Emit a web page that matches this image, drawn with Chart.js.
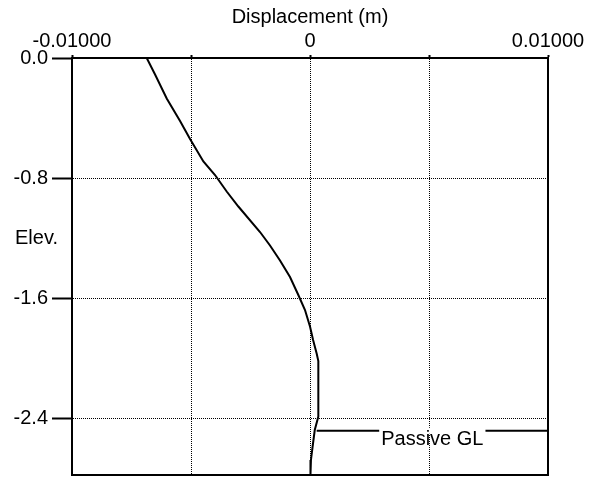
<!DOCTYPE html>
<html>
<head>
<meta charset="utf-8">
<script src="https://cdn.jsdelivr.net/npm/chart.js@4.4.1/dist/chart.umd.min.js"></script>
<style>
  html, body { margin: 0; padding: 0; background: #fff; }
  #wrap { width: 590px; height: 477px; }
</style>
</head>
<body>
<div id="wrap"><canvas id="chart"></canvas></div>
<script>
// wall deflection profile: elevation (m) against horizontal displacement (m)
const elevations = [0.0, -0.11, -0.27, -0.42, -0.54, -0.69, -0.78, -0.89, -0.99, -1.16, -1.25, -1.35, -1.46, -1.58, -1.68, -1.79, -1.88, -1.97, -2.02, -2.39, -2.48, -2.59, -2.68, -2.78];
const displacements = [-0.00686, -0.00651, -0.00602, -0.00546, -0.00504, -0.00448, -0.00399, -0.00350, -0.00301, -0.00210, -0.00168, -0.00126, -0.00084, -0.00049, -0.00021, 0.0, 0.00013, 0.00028, 0.00035, 0.00035, 0.00020, 0.00011, 0.00004, 0.00002];

// passive side ground level marker
const passiveLabel = "Passive GL";
const passiveElev = -2.485;
const passiveX = [0.00028, 0.01];

const xTicks = [-0.01, -0.005, 0, 0.005, 0.01];
const xTickLabels = ["-0.01000", "", "0", "", "0.01000"];
const yTicks = [0, -0.8, -1.6, -2.4];
const yTickLabels = ["0.0", "-0.8", "-1.6", "-2.4"];
const xRange = [-0.01, 0.01];
const yRange = [-2.78, 0];

const FONT = { family: '"Liberation Sans", Arial, sans-serif', size: 20 };
Chart.defaults.color = "#000";
Chart.defaults.font = FONT;

const profile = elevations.map((y, i) => ({ x: displacements[i], y }));
const passiveLine = passiveX.map(x => ({ x, y: passiveElev }));

// frame around the plot, the horizontal "Elev." caption and the GL tag
const extras = {
    id: "extras",
    afterDraw(chart) {
        const { ctx, chartArea: a, scales } = chart;
        ctx.save();
        ctx.strokeStyle = "#000";
        ctx.lineWidth = 2;
        ctx.setLineDash([]);
        ctx.strokeRect(a.left, a.top, a.right - a.left, a.bottom - a.top);

        ctx.font = `${FONT.size}px ${FONT.family}`;
        ctx.fillStyle = "#000";
        ctx.textAlign = "left";
        ctx.textBaseline = "alphabetic";
        const ey = (scales.y.getPixelForValue(yTicks[1]) + scales.y.getPixelForValue(yTicks[2])) / 2;
        ctx.fillText("Elev.", 15, ey + 6);

        const gy = scales.y.getPixelForValue(passiveElev);
        const cx = (scales.x.getPixelForValue(passiveX[0]) + scales.x.getPixelForValue(passiveX[1])) / 2;
        const w = ctx.measureText(passiveLabel).width;
        ctx.fillStyle = "#fff";
        ctx.fillRect(cx - w / 2 - 2, gy - 3, w + 4, 6);
        ctx.fillStyle = "#000";
        ctx.textAlign = "center";
        ctx.fillText(passiveLabel, cx, gy + 14);
        ctx.restore();
    },
};

new Chart(document.getElementById("chart"), {
    type: "scatter",
    data: {
        datasets: [
            {
                data: profile,
                showLine: true,
                borderColor: "#000",
                borderWidth: 2,
                pointRadius: 0,
                tension: 0,
            },
            {
                data: passiveLine,
                showLine: true,
                borderColor: "#000",
                borderWidth: 2,
                pointRadius: 0,
            },
        ],
    },
    options: {
        responsive: true,
        maintainAspectRatio: false,
        animation: false,
        layout: { padding: { left: 0, top: 0, right: 42, bottom: 2 } },
        plugins: {
            legend: { display: false },
            tooltip: { enabled: false },
        },
        scales: {
            x: {
                type: "linear",
                position: "top",
                min: xRange[0],
                max: xRange[1],
                afterBuildTicks: s => { s.ticks = xTicks.map(value => ({ value })); },
                afterFit: s => { s.height = 58; s.paddingLeft = 0; s.paddingRight = 0; },
                ticks: {
                    autoSkip: false,
                    maxRotation: 0,
                    padding: 2,
                    callback: (v, i) => xTickLabels[i],
                },
                grid: {
                    color: "#000",
                    tickLength: 3,
                    tickColor: "#000",
                    tickBorderDash: [],
                    tickWidth: 2,
                },
                border: { color: "#000", width: 2, dash: [1, 1] },
                title: {
                    display: true,
                    text: "Displacement (m)",
                    padding: { top: 5, bottom: 0 },
                },
            },
            y: {
                type: "linear",
                min: yRange[0],
                max: yRange[1],
                afterBuildTicks: s => { s.ticks = yTicks.map(value => ({ value })); },
                afterFit: s => { s.width = 72; s.paddingTop = 0; s.paddingBottom = 0; },
                ticks: {
                    autoSkip: false,
                    padding: 4,
                    callback: (v, i) => yTickLabels[i],
                },
                grid: {
                    color: "#000",
                    tickLength: 20,
                    tickColor: "#000",
                    tickBorderDash: [],
                    tickWidth: 2,
                },
                border: { color: "#000", width: 2, dash: [1, 1] },
            },
        },
    },
    plugins: [extras],
});
</script>
</body>
</html>
